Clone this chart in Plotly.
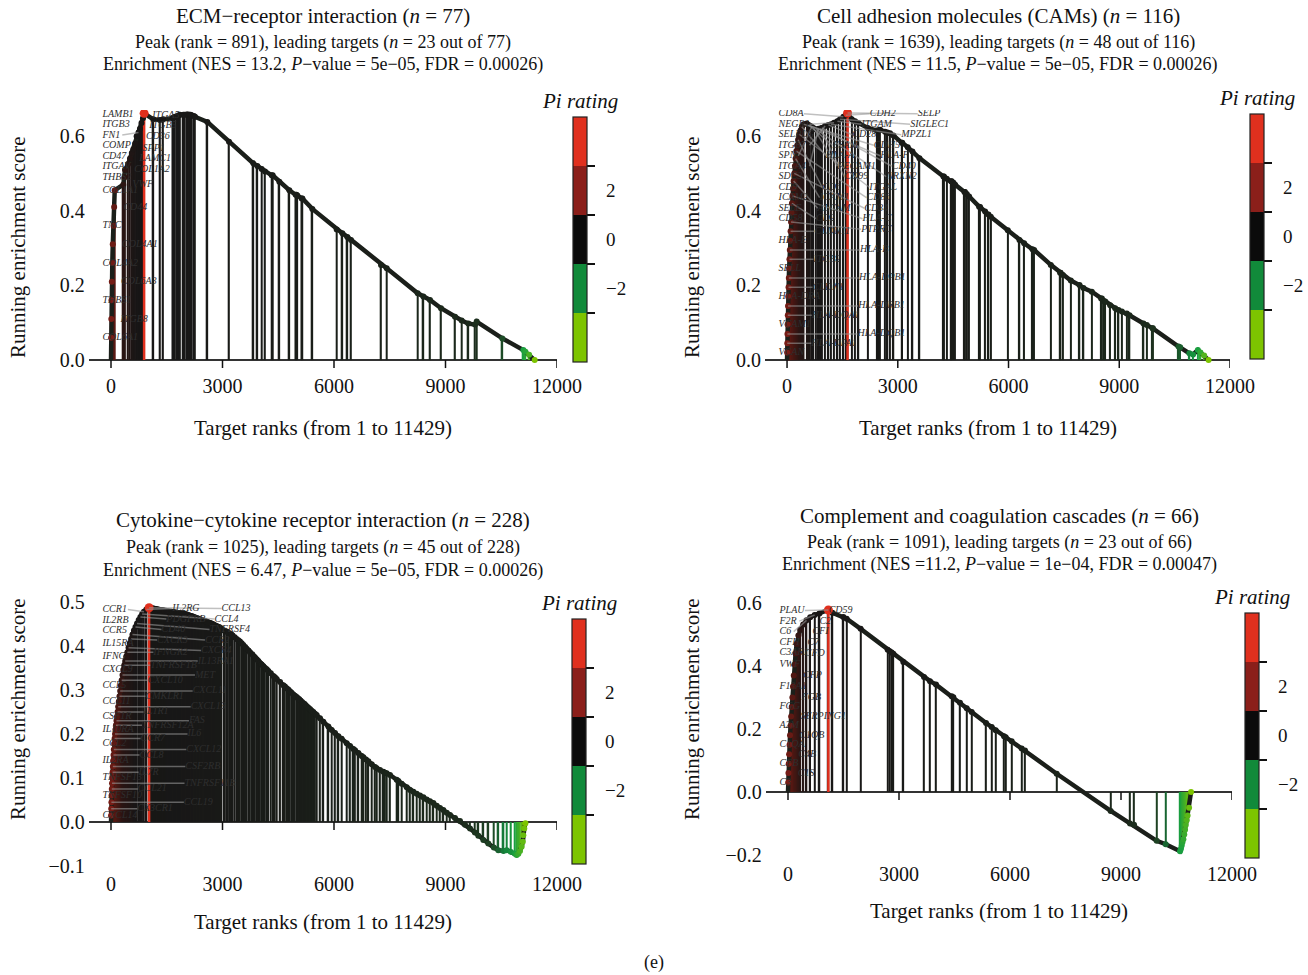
import plotly.graph_objects as go

W, H = 1308, 975
FONT = "Liberation Serif"

# ------------------------------------------------------------------ data
# Panel 1: ECM-receptor interaction
p1_ranks = [3, 8, 14, 22, 35, 48, 70, 85, 100, 331, 360, 377, 460, 511, 560, 600, 650, 690, 740, 780, 820, 860, 891,
            1139, 1318, 1400, 1659, 1680, 1722, 1785, 1830, 1857, 1946, 1980, 2036, 2070, 2108, 2140, 2170, 2230, 2260,
            2592, 3175, 3830, 3937, 4054, 4143, 4323, 4350, 4529, 4798, 4969, 4990, 5013, 5130, 5150, 5417, 6072, 6224,
            6359, 6457, 7265, 7418, 8252, 8404, 8583, 8879, 9256, 9435, 9614, 9794, 9839, 10529, 11094, 11150, 11250, 11400]
p1_es = [0.06, 0.11, 0.16, 0.21, 0.26, 0.31, 0.36, 0.41, 0.455, 0.47, 0.49, 0.51, 0.525, 0.54, 0.555, 0.565, 0.58, 0.60,
         0.61, 0.62, 0.635, 0.648, 0.661,
         0.645, 0.643, 0.645, 0.648, 0.650, 0.652, 0.654, 0.656, 0.657, 0.657, 0.657, 0.658, 0.658, 0.657, 0.657, 0.656,
         0.654, 0.652, 0.638, 0.585, 0.527, 0.520, 0.512, 0.505, 0.495, 0.495, 0.478, 0.455, 0.443, 0.443, 0.441, 0.433,
         0.433, 0.405, 0.350, 0.340, 0.330, 0.322, 0.255, 0.246, 0.179, 0.170, 0.161, 0.139, 0.116, 0.106, 0.098, 0.095,
         0.103, 0.058, 0.027, 0.022, 0.014, 0.0]
p1_genes = ["COL6A1", "ITGB8", "THBS1", "COL6A3", "COL4A2", "COL4A1", "TNC", "CD44", "COL1A1", "VWF", "THBS2",
            "COL1A2", "ITGAV", "LAMC1", "CD47", "SPP1", "COMP", "CD36", "FN1", "ITGB5", "ITGB3", "ITGA5", "LAMB1"]

# Panel 2: Cell adhesion molecules
p2_ranks = [2, 6, 10, 15, 20, 26, 33, 40, 48, 56, 65, 75, 85, 96, 108, 120, 133, 147, 162, 178, 195, 213, 232, 252, 275,
            300, 330, 365, 400, 450, 533, 580, 623, 670, 714, 786, 849, 900, 940, 1030, 1120, 1193, 1274, 1364, 1436,
            1527, 1590, 1639,
            1752, 1843, 1933, 2186, 2430, 2460, 2493, 2520, 2656, 2719, 2791, 2882, 3108, 3120, 3270, 3397, 3586, 4237,
            4250, 4327, 4444, 4460, 4508, 4553, 4806, 4820, 4869, 4932, 5203, 5230, 5366, 5456, 5519, 5980, 6296, 6423,
            6648, 6694, 7145, 7398, 7410, 7470, 7687, 7922, 8030, 8257, 8509, 8530, 8600, 8620, 8753, 8889, 8979, 9070,
            9205, 9277, 9656, 9747, 9900, 9910, 10605, 10650, 10900, 11000, 11129, 11200, 11300, 11420]
p2_es = [0.02, 0.045, 0.07, 0.095, 0.12, 0.145, 0.17, 0.195, 0.22, 0.245, 0.27, 0.295, 0.32, 0.345, 0.37, 0.395, 0.42,
         0.44, 0.46, 0.48, 0.50, 0.52, 0.54, 0.56, 0.575, 0.59, 0.605, 0.615, 0.625, 0.632, 0.634, 0.63, 0.628, 0.625,
         0.622, 0.618, 0.62, 0.62, 0.622, 0.627, 0.63, 0.632, 0.636, 0.64, 0.645, 0.652, 0.656, 0.662,
         0.645, 0.640, 0.635, 0.622, 0.615, 0.615, 0.616, 0.617, 0.612, 0.610, 0.608, 0.602, 0.582, 0.582, 0.570,
         0.559, 0.541, 0.492, 0.492, 0.486, 0.479, 0.479, 0.475, 0.470, 0.450, 0.450, 0.445, 0.438, 0.411, 0.410,
         0.398, 0.390, 0.384, 0.348, 0.322, 0.313, 0.297, 0.295, 0.255, 0.234, 0.234, 0.228, 0.213, 0.201, 0.193,
         0.183, 0.165, 0.165, 0.157, 0.157, 0.147, 0.139, 0.134, 0.130, 0.125, 0.120, 0.098, 0.094, 0.085, 0.085,
         0.036, 0.034, 0.018, 0.015, 0.027, 0.020, 0.012, 0.0]
p2_genes = ["VCAN", "HLA-DPA1", "HLA-DQB1", "VCAM1", "HLA-DQA1", "HLA-DRB1", "HLA-DRA", "CLDN1", "HLA-DPB1", "SELL",
            "ITGB2", "HLA-B", "HLA-E", "CLDN11", "PTPRC", "CD58", "CD2", "HLA-C", "SELE", "ALCAM", "CD34", "ICAM2",
            "ICAM1", "CD86", "CD9", "CD6", "ITGAL", "SDC3", "HLA-A", "CDH5", "SELPLG", "ESAM", "HLA-F", "SPN",
            "PECAM1", "NRXN2", "ITGA4", "CD99", "CD40", "ITGB7", "CD28", "MPZL1", "NEGR1", "ITGAM", "SIGLEC1",
            "CD8A", "CDH2", "SELP"]

# Panel 3: Cytokine-cytokine receptor interaction
p3_ranks = [2, 6, 11, 16, 22, 28, 35, 42, 50, 58, 67, 76, 86, 97, 108, 120, 133, 147, 162, 177, 193, 210, 228, 247,
            266, 287, 309, 332, 356, 382, 410, 440, 472, 506, 541, 578, 617, 658, 700, 745, 790, 838, 885, 950, 1025,
            1060, 1090, 1120, 1150, 1185, 1215, 1250, 1280, 1315, 1345, 1380, 1410, 1445, 1480, 1510, 1545, 1580, 1615,
            1650, 1680, 1715, 1750, 1785, 1820, 1850, 1885, 1920, 1955, 1990, 2025, 2060, 2095, 2130, 2165, 2200, 2240,
            2280, 2320, 2360, 2400, 2440, 2480, 2520, 2550, 2580, 2610, 2640, 2670, 2700, 2730, 2760, 2790, 2820, 2850,
            2880, 2910, 2940, 2970,
            3030, 3067, 3110, 3150, 3202, 3240, 3273, 3330, 3380, 3426, 3470, 3516, 3560, 3610, 3650, 3700, 3740, 3800,
            3840, 3875, 3920, 3964, 4010, 4054, 4100, 4143, 4190, 4233, 4300, 4368, 4410, 4457, 4550, 4637, 4680, 4726,
            4770, 4816, 4860, 4906, 4950, 4995, 5030, 5065, 5100, 5140, 5175, 5210, 5245, 5280, 5320, 5360, 5400, 5444,
            5490,
            5534, 5624, 5713, 5848, 5937, 6027, 6117, 6206, 6341, 6431, 6520, 6565, 6655, 6745, 6790, 6861, 6924, 7014,
            7104, 7149, 7238, 7328, 7373, 7418, 7507, 7687, 7732, 7821, 7956, 8045, 8135, 8224, 8314, 8404, 8494, 8583,
            8673, 8763, 8852, 8942, 9032,
            9121, 9256, 9390, 9525, 9660, 9790, 9883, 10018, 10152, 10300, 10421, 10560, 10646, 10760, 10870, 10915,
            10960, 11005, 11049, 11080, 11094, 11120, 11150]
p3_es = [0.015, 0.03, 0.045, 0.06, 0.075, 0.088, 0.10, 0.113, 0.126, 0.139, 0.152, 0.165, 0.178, 0.19, 0.20, 0.21, 0.22,
         0.23, 0.24, 0.25, 0.262, 0.274, 0.286, 0.298, 0.31, 0.322, 0.334, 0.346, 0.356, 0.366, 0.376, 0.386, 0.396,
         0.406, 0.416, 0.426, 0.435, 0.443, 0.451, 0.459, 0.466, 0.473, 0.478, 0.483, 0.487,
         0.486, 0.486, 0.485, 0.485, 0.484, 0.484, 0.483, 0.483, 0.482, 0.482, 0.481, 0.481, 0.480, 0.480, 0.479,
         0.479, 0.478, 0.478, 0.477, 0.477, 0.476, 0.476, 0.475, 0.475, 0.475, 0.474, 0.474, 0.474, 0.473, 0.472,
         0.471, 0.470, 0.469, 0.468, 0.467, 0.466, 0.464, 0.463, 0.462, 0.460, 0.459, 0.458, 0.457, 0.456, 0.455,
         0.454, 0.453, 0.452, 0.451, 0.450, 0.449, 0.447, 0.446, 0.445, 0.444, 0.443, 0.441, 0.440,
         0.436, 0.434, 0.433, 0.431, 0.428, 0.426, 0.424, 0.420, 0.416, 0.413, 0.410, 0.406, 0.402, 0.398, 0.394,
         0.390, 0.386, 0.381, 0.377, 0.374, 0.370, 0.366, 0.361, 0.358, 0.354, 0.350, 0.347, 0.343, 0.338, 0.332,
         0.329, 0.325, 0.318, 0.311, 0.308, 0.304, 0.301, 0.297, 0.294, 0.290, 0.287, 0.284, 0.281, 0.279, 0.276,
         0.273, 0.270, 0.268, 0.265, 0.262, 0.259, 0.256, 0.253, 0.250, 0.246,
         0.243, 0.236, 0.228, 0.217, 0.209, 0.202, 0.195, 0.189, 0.179, 0.173, 0.166, 0.163, 0.157, 0.150, 0.147,
         0.142, 0.138, 0.131, 0.125, 0.122, 0.118, 0.114, 0.112, 0.111, 0.107, 0.096, 0.093, 0.087, 0.079, 0.073,
         0.069, 0.064, 0.060, 0.056, 0.051, 0.047, 0.043, 0.037, 0.032, 0.027, 0.021,
         0.016, 0.009, 0.002, -0.006, -0.015, -0.024, -0.031, -0.041, -0.049, -0.058, -0.064, -0.066, -0.064,
         -0.068, -0.072, -0.075, -0.072, -0.066, -0.056, -0.045, -0.030, -0.015, -0.003]
p3_genes = ["CXCL14", "CX3CR1", "CCL19", "TNFSF10", "CCL21", "TNFRSF11B", "TNFSF13", "IL7R", "CSF2RB", "IL2RA",
            "CCL8", "CXCL12", "CCL2", "CCR7", "IL6", "IL10RA", "TNFRSF12A", "FAS", "CSF1R", "IL1R1", "CXCL13", "CCL11",
            "CMKLR1", "CXCL11", "CCL5", "CXCL10", "MET", "CXCL9", "TNFRSF1B", "IL13RA1", "IFNG", "IFNGR2", "CXCR4",
            "IL15RA", "CXCR3", "CCR2", "CCR5", "CD40", "TNFRSF4", "IL2RB", "PDGFRB", "CCL4", "CCR1", "IL2RG", "CCL13"]

# Panel 4: Complement and coagulation cascades
p4_ranks = [5, 12, 20, 30, 42, 55, 70, 85, 100, 118, 135, 155, 180, 205, 235, 280, 330, 410, 500, 600, 720, 850, 1091,
            1200, 1496, 1586, 1964, 2694, 2750, 2802, 2847, 3117, 3676, 3838, 4000, 4424, 4469, 4649, 4829, 4964, 5352,
            5505, 5613, 5838, 5883, 6046, 6316, 6406, 7262, 8721, 9244, 9352, 9965, 10208, 10596, 10620, 10641, 10660,
            10686, 10710, 10731, 10750, 10776, 10800, 10840, 10893]
p4_es = [0.03, 0.06, 0.09, 0.12, 0.15, 0.18, 0.21, 0.24, 0.27, 0.30, 0.335, 0.37, 0.405, 0.44, 0.47, 0.497, 0.515, 0.532,
         0.545, 0.555, 0.562, 0.567, 0.578,
         0.569, 0.556, 0.550, 0.518, 0.452, 0.447, 0.443, 0.439, 0.413, 0.365, 0.352, 0.341, 0.304, 0.301, 0.283,
         0.266, 0.254, 0.219, 0.206, 0.196, 0.177, 0.174, 0.161, 0.138, 0.132, 0.058, -0.06, -0.10, -0.104, -0.155,
         -0.166, -0.188, -0.18, -0.17, -0.16, -0.15, -0.135, -0.12, -0.105, -0.09, -0.075, -0.05, 0.0]
p4_genes = ["C3", "C1S", "CFB", "C4B", "C1QA", "C1QB", "A2M", "SERPING1", "FGG", "FGB", "F13A1", "CFP", "VWF", "CFD",
            "C3AR1", "C7", "CFH", "CFI", "C6", "C2", "F2R", "CD59", "PLAU"]

titles = ["ECM\u2212receptor interaction (<i>n</i> = 77)",
          "Cell adhesion molecules (CAMs) (<i>n</i> = 116)",
          "Cytokine\u2212cytokine receptor interaction (<i>n</i> = 228)",
          "Complement and coagulation cascades (<i>n</i> = 66)"]
sub1 = ["Peak (rank = 891), leading targets (<i>n</i> = 23 out of 77)",
        "Peak (rank = 1639), leading targets (<i>n</i> = 48 out of 116)",
        "Peak (rank = 1025), leading targets (<i>n</i> = 45 out of 228)",
        "Peak (rank = 1091), leading targets (<i>n</i> = 23 out of 66)"]
sub2 = ["Enrichment (NES = 13.2, <i>P</i>\u2212value = 5e\u221205, FDR = 0.00026)",
        "Enrichment (NES = 11.5, <i>P</i>\u2212value = 5e\u221205, FDR = 0.00026)",
        "Enrichment (NES = 6.47, <i>P</i>\u2212value = 5e\u221205, FDR = 0.00026)",
        "Enrichment (NES =11.2, <i>P</i>\u2212value = 1e\u221204, FDR = 0.00047)"]
peaks = [891, 1639, 1025, 1091]
x_ticks = [0, 3000, 6000, 9000, 12000]
y_ticks = [[0, 0.2, 0.4, 0.6], [0, 0.2, 0.4, 0.6], [-0.1, 0, 0.1, 0.2, 0.3, 0.4, 0.5], [-0.2, 0, 0.2, 0.4, 0.6]]
cb_labels = [2, 0, -2]
cb_bounds = [-3, -1, 1, 3]

data = [(p1_ranks, p1_es, p1_genes), (p2_ranks, p2_es, p2_genes),
        (p3_ranks, p3_es, p3_genes), (p4_ranks, p4_es, p4_genes)]

# ------------------------------------------------------------------ layout geometry (pixels)
geo = [
    dict(x0=88.7, x1=557, top=110, bot=372, yr=[-0.032, 0.67], cb=(573, 117), offs=[-230, 250],
         tt=(323, 16, 43, 65), yt=(18, 247), xt=(323, 428)),
    dict(x0=764.9, x1=1230, top=110, bot=372, yr=[-0.032, 0.67], cb=(1250, 114), offs=[-230, 650, 1900],
         tt=(998, 16, 43, 65), yt=(692, 247), xt=(988, 428)),
    dict(x0=88.7, x1=557, top=597.6, bot=870.4, yr=[-0.11, 0.51], cb=(572, 619), offs=[-230, 700, 1950],
         tt=(323, 520, 547, 570), yt=(18, 709), xt=(323, 922)),
    dict(x0=765.8, x1=1232, top=599.9, bot=860, yr=[-0.216, 0.61], cb=(1245, 613), offs=[-230, 250],
         tt=(999, 516, 542, 564), yt=(692, 709), xt=(999, 911)),
]
XR = [-600, 12000]
CB_LEN, CB_TH = 245, 14
LABEL_SIZE = 10

RANK_CS = [[0.0, '#7a1d16'], [0.008, '#5e1913'], [0.03, '#2a1513'], [0.06, '#181616'], [0.5, '#1a1e19'],
           [0.85, '#1c2a1c'], [0.92, '#1e4424'], [0.95, '#14803a'], [0.975, '#1aa040'], [0.99, '#55b51c'],
           [1.0, '#7dc400']]
PI_CS = [[0.0, '#7dc400'], [0.2, '#7dc400'], [0.2, '#118a3a'], [0.4, '#118a3a'], [0.4, '#0b0b0b'],
         [0.6, '#0b0b0b'], [0.6, '#8b1f1a'], [0.8, '#8b1f1a'], [0.8, '#e0301e'], [1.0, '#e0301e']]
LINE_C = '#1b1f1a'
RED = '#e0301e'


def px(x):
    return x / W


def py(y):
    return 1 - y / H


def repel(ys, gap, lo, hi):
    """spread label heights so that they are at least `gap` apart (keeps order)."""
    order = sorted(range(len(ys)), key=lambda k: ys[k])
    v = [ys[k] for k in order]
    for j in range(len(v)):
        v[j] = max(v[j], lo)
        if j:
            v[j] = max(v[j], v[j - 1] + gap)
    if v and v[-1] > hi:
        v[-1] = hi
        for j in range(len(v) - 2, -1, -1):
            v[j] = min(v[j], v[j + 1] - gap)
    out = [0] * len(ys)
    for j, k in enumerate(order):
        out[k] = v[j]
    return out


fig = go.Figure()
annotations = []
shapes = []
layout = {}

for i, ((ranks, es, genes), g) in enumerate(zip(data, geo)):
    n = i + 1
    xa = 'x' if n == 1 else f'x{n}'
    ya = 'y' if n == 1 else f'y{n}'
    last = ranks[-1]
    cvals = [r / last for r in ranks]
    peak = peaks[i]
    pidx = ranks.index(peak)
    nlead = len(genes)
    ppu = (g['bot'] - g['top']) / (g['yr'][1] - g['yr'][0])      # pixels per score unit
    ppr = (g['x1'] - g['x0']) / (XR[1] - XR[0])                  # pixels per rank

    # vertical hit lines
    fig.add_trace(go.Bar(x=ranks, y=es, width=[44] * len(ranks), xaxis=xa, yaxis=ya,
                         marker=dict(color=cvals, colorscale=RANK_CS, cmin=0, cmax=1, line_width=0),
                         hoverinfo='skip', showlegend=False))
    # running score curve
    fig.add_trace(go.Scatter(x=[0] + ranks, y=[0] + es, mode='lines', xaxis=xa, yaxis=ya,
                             line=dict(color=LINE_C, width=4.5), hoverinfo='skip', showlegend=False))
    # peak line
    fig.add_trace(go.Scatter(x=[peak, peak], y=[0, es[pidx]], mode='lines', xaxis=xa, yaxis=ya,
                             line=dict(color=RED, width=2.5), hoverinfo='skip', showlegend=False))
    # dots
    fig.add_trace(go.Scatter(x=ranks, y=es, mode='markers', xaxis=xa, yaxis=ya,
                             marker=dict(size=6, color=cvals, colorscale=RANK_CS, cmin=0, cmax=1, line_width=0),
                             hoverinfo='skip', showlegend=False))
    fig.add_trace(go.Scatter(x=[peak], y=[es[pidx]], mode='markers', xaxis=xa, yaxis=ya,
                             marker=dict(size=9, color=RED), hoverinfo='skip', showlegend=False))

    # leading-target labels, repelled vertically inside a few columns
    offs = g['offs']
    ncol = len(offs)
    gap = 10.5 / ppu
    hi = es[pidx] - 0.002
    lo = 0.0
    lx = [0.0] * nlead
    ly = [0.0] * nlead
    for c in range(ncol):
        idx = [k for k in range(nlead) if k % ncol == c]
        ys = repel([es[k] for k in idx], gap, lo, hi)
        for k, yv in zip(idx, ys):
            ly[k] = yv
            lx[k] = offs[0] if c == 0 else ranks[k] + offs[c]
    sx, sy = [], []
    for k in range(nlead):
        r, e = ranks[k], es[k]
        ex = lx[k] + (len(genes[k]) * 5.6 + 3) / ppr if lx[k] < 0 else lx[k]
        dist = ((r - ex) * ppr) ** 2 + ((e - ly[k]) * ppu) ** 2
        if dist > 14 ** 2 and (lx[k] >= 0 or ex < r):
            sx += [r, ex, None]
            sy += [e, ly[k], None]
    fig.add_trace(go.Scatter(x=sx, y=sy, mode='lines', xaxis=xa, yaxis=ya,
                             line=dict(color='rgba(150,150,150,0.6)', width=1.5),
                             hoverinfo='skip', showlegend=False))
    fig.add_trace(go.Scatter(x=lx, y=ly, mode='text', xaxis=xa, yaxis=ya,
                             text=[f'<i>{s}</i>' for s in genes], textposition='middle right',
                             textfont=dict(family=FONT, size=LABEL_SIZE, color='#2e2e2e'),
                             hoverinfo='skip', showlegend=False))

    # colour bar (dummy trace on its own colour axis)
    cax = 'coloraxis' if n == 1 else f'coloraxis{n}'
    fig.add_trace(go.Scatter(x=[None], y=[None], mode='markers', xaxis=xa, yaxis=ya,
                             marker=dict(color=[0], coloraxis=cax), hoverinfo='skip', showlegend=False))
    cbx, cby = g['cb']
    layout[cax] = dict(colorscale=PI_CS, cmin=-5, cmax=5,
                       colorbar=dict(x=px(cbx), xanchor='left', y=py(cby), yanchor='top',
                                     len=CB_LEN, lenmode='pixels', thickness=CB_TH, thicknessmode='pixels',
                                     xpad=0, ypad=0, outlinewidth=1.2, outlinecolor='#222',
                                     tickvals=cb_bounds, ticktext=[' '] * 4, ticks='outside', ticklen=8,
                                     tickwidth=1.5, tickcolor='#111', tickfont=dict(family=FONT, size=8)))
    for v in cb_labels:
        yy = cby + (5 - v) / 10 * CB_LEN
        annotations.append(dict(x=px(cbx + CB_TH + 17), y=py(yy), xref='paper', yref='paper',
                                text=('\u2212' + str(-v)) if v < 0 else str(v), showarrow=False,
                                xanchor='left', yanchor='middle', font=dict(family=FONT, size=19, color='#111')))
    annotations.append(dict(x=px(cbx + CB_TH / 2), y=py(cby - 16), xref='paper', yref='paper',
                            text='<i>Pi rating</i>', showarrow=False, xanchor='center', yanchor='middle',
                            font=dict(family=FONT, size=21, color='#111')))

    # axes
    xkey = 'xaxis' if n == 1 else f'xaxis{n}'
    ykey = 'yaxis' if n == 1 else f'yaxis{n}'
    layout[xkey] = dict(domain=[px(g['x0']), px(g['x1'])], range=XR, anchor=ya, showgrid=False,
                        zeroline=False, showline=False, ticks='', tickvals=x_ticks, tickformat='d',
                        tickfont=dict(family=FONT, size=20, color='#111'))
    layout[ykey] = dict(domain=[py(g['bot']), py(g['top'])], range=g['yr'], anchor=xa, showgrid=False,
                        zeroline=True, zerolinecolor='#333', zerolinewidth=1.5, showline=False, ticks='',
                        tickvals=y_ticks[i], tickformat='.1f', ticklabelstandoff=3,
                        tickfont=dict(family=FONT, size=20, color='#111'))
    for t in x_ticks:
        shapes.append(dict(type='line', xref=xa, yref=ya, x0=t, x1=t, ysizemode='pixel', yanchor=0,
                           y0=0, y1=-8, line=dict(color='#111', width=1.5)))

    # titles
    tx, t1, t2, t3 = g['tt']
    for txt, yy, sz in [(titles[i], t1, 21), (sub1[i], t2, 18), (sub2[i], t3, 18)]:
        annotations.append(dict(x=px(tx), y=py(yy), xref='paper', yref='paper', text=txt, showarrow=False,
                                xanchor='center', yanchor='middle', font=dict(family=FONT, size=sz, color='#111')))
    annotations.append(dict(x=px(g['yt'][0]), y=py(g['yt'][1]), xref='paper', yref='paper',
                            text='Running enrichment score', textangle=-90, showarrow=False,
                            xanchor='center', yanchor='middle', font=dict(family=FONT, size=21, color='#111')))
    annotations.append(dict(x=px(g['xt'][0]), y=py(g['xt'][1]), xref='paper', yref='paper',
                            text='Target ranks (from 1 to 11429)', showarrow=False,
                            xanchor='center', yanchor='middle', font=dict(family=FONT, size=21, color='#111')))

annotations.append(dict(x=px(654), y=py(962), xref='paper', yref='paper', text='(e)', showarrow=False,
                        xanchor='center', yanchor='middle', font=dict(family=FONT, size=18, color='#111')))

fig.update_layout(width=W, height=H, margin=dict(l=0, r=0, t=0, b=0, autoexpand=False),
                  paper_bgcolor='white', plot_bgcolor='white', showlegend=False,
                  annotations=annotations, shapes=shapes,
                  font=dict(family=FONT, color='#111'), **layout)
fig.write_html("out.html", config={'displayModeBar': False},
               post_script="document.body.style.margin='0';document.body.style.padding='0';")
